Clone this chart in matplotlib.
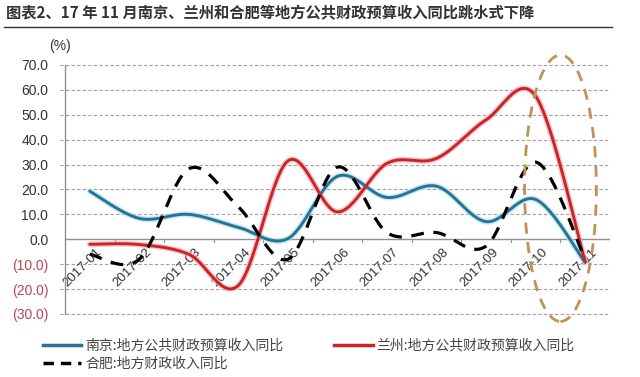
import numpy as np
import matplotlib
matplotlib.use("Agg")
import matplotlib.pyplot as plt
from matplotlib.patches import Ellipse
from matplotlib.lines import Line2D

plt.rcParams['font.family'] = ['Noto Sans CJK SC', 'DejaVu Sans']

months = ["2017-01", "2017-02", "2017-03", "2017-04", "2017-05", "2017-06",
          "2017-07", "2017-08", "2017-09", "2017-10", "2017-11"]
nanjing = [19.3, 8.4, 10.0, 4.8, 0.3, 25.3, 16.8, 21.3, 7.1, 16.0, -9.3]
lanzhou = [-2.0, -2.1, -6.0, -18.5, 31.5, 11.0, 30.5, 32.5, 48.0, 57.5, -9.0]
hefei = [-6.0, -8.0, 28.3, 13.0, -8.0, 29.0, 2.7, 2.7, -2.7, 31.0, -8.0]
yticks = [-30, -20, -10, 0, 10, 20, 30, 40, 50, 60, 70]

title = "图表2、17 年 11 月南京、兰州和合肥等地方公共财政预算收入同比跳水式下降"
leg_nj = "南京:地方公共财政预算收入同比"
leg_lz = "兰州:地方公共财政预算收入同比"
leg_hf = "合肥:地方财政收入同比"


def smooth(xs, ys, n=30):
    """Excel-style smoothed line (cubic Bezier with Catmull-Rom tangents)."""
    p = np.column_stack([xs, ys]).astype(float)
    pts = []
    m = len(p)
    for i in range(m - 1):
        p0 = p[i - 1] if i > 0 else p[i]
        p1 = p[i]
        p2 = p[i + 1]
        p3 = p[i + 2] if i + 2 < m else p[i + 1]
        c1 = p1 + (p2 - p0) / 6.0
        c2 = p2 - (p3 - p1) / 6.0
        t = np.linspace(0, 1, n)[:, None]
        seg = ((1 - t) ** 3) * p1 + 3 * ((1 - t) ** 2) * t * c1 + 3 * (1 - t) * t ** 2 * c2 + t ** 3 * p2
        pts.append(seg if i == 0 else seg[1:])
    pts = np.vstack(pts)
    return pts[:, 0], pts[:, 1]


fig = plt.figure(figsize=(6.4, 3.77), dpi=100)
ax = fig.add_axes([65 / 640, 1 - 314 / 377, (610 - 65) / 640, 249 / 377])
x = np.arange(len(months))
ax.set_xlim(-0.5, len(months) - 0.5)
ax.set_ylim(-30, 70)

# gridlines
for v in yticks:
    if v != 0:
        ax.plot([-0.6, len(months) - 0.5], [v, v], color='#a0a0a0', lw=0.8,
                ls=(0, (3, 2)), clip_on=False, zorder=1)
ax.axhline(0, color='#909090', lw=1.0, zorder=2)
for b in np.arange(-0.5, len(months), 1.0):
    ax.plot([b, b], [0, -1.2], color='#909090', lw=0.8, zorder=2)

for s in ['top', 'right', 'bottom']:
    ax.spines[s].set_visible(False)
ax.spines['left'].set_color('#909090')
ax.spines['left'].set_linewidth(1.0)

ax.set_yticks(yticks)
labels = []
for v in yticks:
    labels.append(f"({abs(v):.1f})" if v < 0 else f"{v:.1f}")
ax.set_yticklabels(labels, fontsize=10, family=['Liberation Sans', 'DejaVu Sans'])
for lab, v in zip(ax.get_yticklabels(), yticks):
    lab.set_color('#b5485a' if v < 0 else '#333333')
ax.tick_params(axis='y', length=0, pad=12)
ax.set_xticks([])

for i, m in enumerate(months):
    ax.text(i + 0.12, -2.8, m, rotation=45, ha='right', va='top', fontsize=9.5,
            color='#333333', family=['Liberation Sans', 'DejaVu Sans'],
            rotation_mode='anchor', zorder=2)

# series
sx, sy = smooth(x, nanjing)
ax.plot(sx, sy, color='#a8e4f0', lw=4.2, alpha=0.7, zorder=3, solid_capstyle='round')
ax.plot(sx, sy, color='#2b7193', lw=2.1, zorder=4, solid_capstyle='round')
sx, sy = smooth(x, lanzhou)
ax.plot(sx, sy, color='#f4b0b4', lw=4.2, alpha=0.7, zorder=3, solid_capstyle='round')
ax.plot(sx, sy, color='#c8252b', lw=2.1, zorder=4, solid_capstyle='round')
sx, sy = smooth(x, hefei)
ax.plot(sx, sy, color='black', lw=2.3, ls=(0, (4, 3)), zorder=4)

ell = Ellipse((9.5, 20.5), 1.45, 107, fill=False, edgecolor='#c0915a', lw=2.0,
              ls=(0, (4, 3)), clip_on=False, zorder=6)
ax.add_patch(ell)

fig.text(60 / 640, 1 - 46 / 377, "(%)", fontsize=10, color='#333333',
         family=['Liberation Sans', 'DejaVu Sans'], ha='center', va='center')

# title
fig.text(6 / 640, 1 - 13 / 377, title, fontsize=11, fontweight='bold', color='#333333',
         ha='left', va='center')
fig.add_artist(Line2D([4 / 640, 612 / 640], [1 - 27 / 377, 1 - 27 / 377],
                      color='#333333', lw=1.0))

handles = [Line2D([], [], color='#2b7193', lw=2.5),
           Line2D([], [], color='black', lw=2.5, ls=(0, (3, 2))),
           Line2D([], [], color='#c8252b', lw=2.5)]
fig.legend(handles, [leg_nj, leg_hf, leg_lz], ncol=2, loc='upper left',
           bbox_to_anchor=(30 / 640, 1 - 326 / 377), frameon=False, fontsize=10,
           handlelength=2.8, handletextpad=0.3, columnspacing=3.6, labelspacing=0.3,
           labelcolor='#444444')

fig.savefig("out.png", dpi=100)
